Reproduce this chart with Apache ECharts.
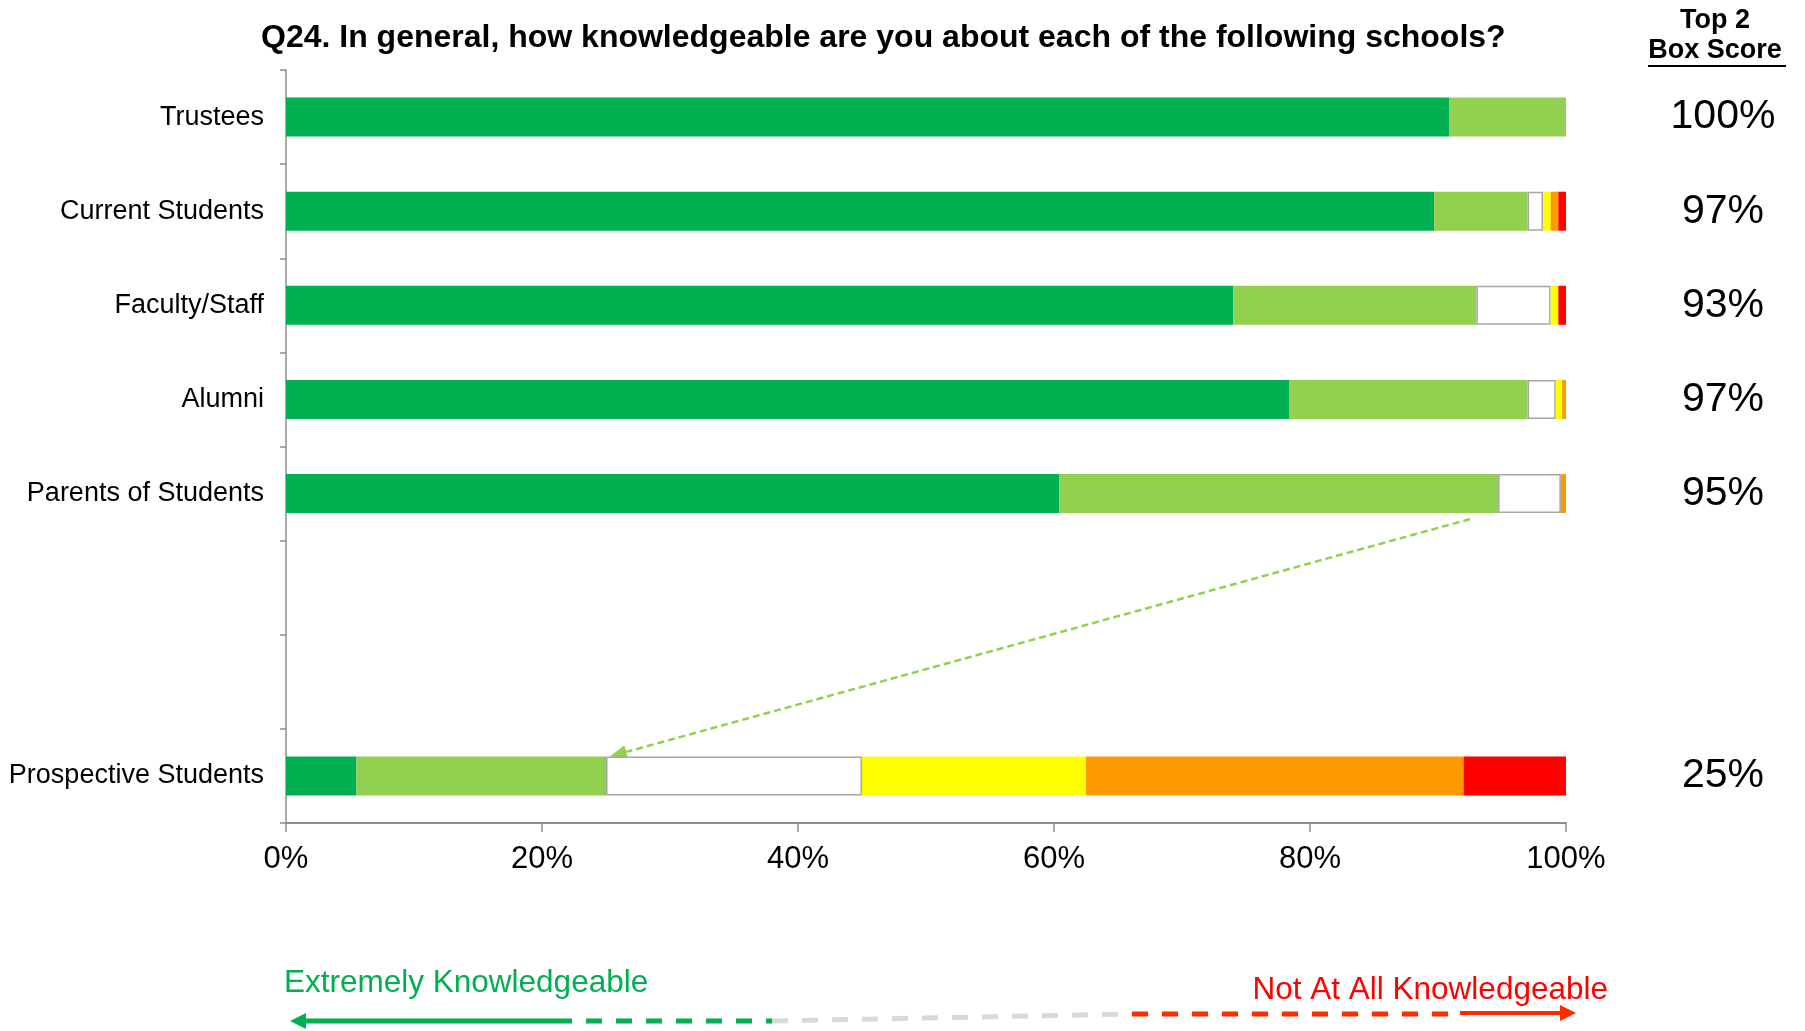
<!DOCTYPE html>
<html>
<head>
<meta charset="utf-8">
<title>Q24 knowledge of schools</title>
<script src="https://cdn.jsdelivr.net/npm/echarts@6/dist/echarts.min.js"></script>
<style>
  html, body { margin: 0; padding: 0; background: #fff; }
  #chart { width: 1805px; height: 1031px; }
</style>
</head>
<body>
<div id="chart"></div>
<script>
// categories, top to bottom (two empty slots before Prospective Students)
var categories = ['Trustees', 'Current Students', 'Faculty/Staff', 'Alumni', 'Parents of Students', '', '', 'Prospective Students'];

// percentages per answer, same order as categories
var extremely = [90.9, 89.7, 74.0, 78.4, 60.4, null, null, 5.5];
var very      = [9.1, 7.3, 19.0, 18.6, 34.3, null, null, 19.5];
var somewhat  = [0, 1.2, 5.8, 2.2, 4.9, null, null, 20.0];
var aLittle   = [0, 0.6, 0.6, 0.5, 0, null, null, 17.5];
var notVery   = [0, 0.6, 0, 0.3, 0.4, null, null, 29.5];
var notAtAll  = [0, 0.6, 0.6, 0, 0, null, null, 8.0];

var top2 = ['100%', '97%', '93%', '97%', '95%', '', '', '25%'];
var xTicks = [0, 20, 40, 60, 80, 100];

// dashed call-out arrow: from under Parents bar to the top of Prospective bar
var arrowFrom = [92.5, 4];
var arrowTo = [25.3, 7];

var FONT = '"Liberation Sans", Arial, sans-serif';
var BAR_W = 39;

function clean(arr) {
    return arr.map(function (v) { return (v === 0 || v === null) ? '-' : v; });
}

function bar(name, data, color, border) {
    return {
        name: name,
        type: 'bar',
        stack: 'total',
        barWidth: BAR_W,
        data: clean(data),
        itemStyle: {
            color: color,
            borderColor: border || color,
            borderWidth: border ? 1.5 : 0
        },
        emphasis: { disabled: true },
        silent: true
    };
}

var chart = echarts.init(document.getElementById('chart'));

chart.setOption({
    backgroundColor: '#ffffff',
    animation: false,
    textStyle: { fontFamily: FONT },
    title: {
        text: 'Q24. In general, how knowledgeable are you about each of the following schools?',
        left: 256,
        top: 17,
        textStyle: { fontFamily: FONT, fontSize: 32, fontWeight: 'bold', color: '#000' }
    },
    grid: { left: 286, right: 239, top: 70, bottom: 208 },
    xAxis: {
        type: 'value',
        min: xTicks[0],
        max: xTicks[xTicks.length - 1],
        interval: xTicks[1] - xTicks[0],
        axisLine: { show: true, lineStyle: { color: '#8c8c8c', width: 2 } },
        axisTick: { show: true, length: 9, lineStyle: { color: '#8c8c8c', width: 1.5 } },
        splitLine: { show: false },
        axisLabel: {
            formatter: '{value}%',
            fontFamily: FONT, fontSize: 31, color: '#000', margin: 21
        }
    },
    yAxis: [{
        type: 'category',
        inverse: true,
        data: categories,
        axisLine: { show: true, lineStyle: { color: '#8c8c8c', width: 1.5 } },
        axisTick: { show: true, length: 6, lineStyle: { color: '#8c8c8c', width: 1.5 } },
        axisLabel: { fontFamily: FONT, fontSize: 27, color: '#000', margin: 22 }
    }, {
        type: 'category',
        inverse: true,
        position: 'right',
        data: categories,
        axisLine: { show: false },
        axisTick: { show: false },
        axisLabel: {
            formatter: function (v, i) { return top2[i]; },
            fontFamily: FONT, fontSize: 41, color: '#000',
            align: 'center', margin: 157
        }
    }],
    series: [
        bar('Extremely Knowledgeable', extremely, '#00B050'),
        bar('Very Knowledgeable', very, '#92D050'),
        bar('Somewhat Knowledgeable', somewhat, '#FFFFFF', '#A6A6A6'),
        bar('A Little Knowledgeable', aLittle, '#FFFF00'),
        bar('Not Very Knowledgeable', notVery, '#FF9900'),
        bar('Not At All Knowledgeable', notAtAll, '#FF0000')
    ]
});

// call-out arrow positions come from the chart's own scales
var p1 = chart.convertToPixel({ seriesIndex: 0 }, arrowFrom);
var p2 = chart.convertToPixel({ seriesIndex: 0 }, arrowTo);
var sx = p1[0], sy = p1[1] + BAR_W / 2 + 6;
var ex = p2[0], ey = p2[1] - BAR_W / 2;
var ang = Math.atan2(ey - sy, ex - sx);
var headL = 17, headW = 7;
var bx = ex - headL * Math.cos(ang), by = ey - headL * Math.sin(ang);
var nx = -Math.sin(ang) * headW, ny = Math.cos(ang) * headW;

var GREEN = '#00B050', GREY = '#D9D9D9', RED = '#FF2A00';

chart.setOption({
    graphic: [
        // call-out arrow
        { type: 'line', shape: { x1: sx, y1: sy, x2: bx, y2: by },
          style: { stroke: '#92D050', lineWidth: 2.5, lineDash: [7, 4] }, silent: true },
        { type: 'polygon', shape: { points: [[ex, ey], [bx + nx, by + ny], [bx - nx, by - ny]] },
          style: { fill: '#92D050' }, silent: true },

        // box score header
        { type: 'text', x: 1715, y: 21,
          style: { text: 'Top 2', font: 'bold 27px ' + FONT, fill: '#000', align: 'center', verticalAlign: 'middle' } },
        { type: 'text', x: 1715, y: 51,
          style: { text: 'Box Score', font: 'bold 27px ' + FONT, fill: '#000', align: 'center', verticalAlign: 'middle' } },
        { type: 'line', shape: { x1: 1648, y1: 66, x2: 1786, y2: 66 },
          style: { stroke: '#000', lineWidth: 2 } },

        // bottom scale arrow
        { type: 'text', x: 284, y: 983,
          style: { text: 'Extremely Knowledgeable', font: '31.5px ' + FONT, fill: GREEN, align: 'left', verticalAlign: 'middle' } },
        { type: 'text', x: 1608, y: 990,
          style: { text: 'Not At All Knowledgeable', font: '31.5px ' + FONT, fill: '#FF0000', align: 'right', verticalAlign: 'middle' } },
        { type: 'polygon', shape: { points: [[290, 1021], [306, 1013], [306, 1029]] }, style: { fill: GREEN } },
        { type: 'line', shape: { x1: 304, y1: 1021, x2: 556, y2: 1021 }, style: { stroke: GREEN, lineWidth: 5 } },
        { type: 'line', shape: { x1: 556, y1: 1021, x2: 772, y2: 1021 }, style: { stroke: GREEN, lineWidth: 5, lineDash: [16, 14] } },
        { type: 'line', shape: { x1: 772, y1: 1021, x2: 1132, y2: 1014 }, style: { stroke: GREY, lineWidth: 5, lineDash: [16, 14] } },
        { type: 'line', shape: { x1: 1132, y1: 1014, x2: 1460, y2: 1014 }, style: { stroke: RED, lineWidth: 5, lineDash: [16, 14] } },
        { type: 'line', shape: { x1: 1460, y1: 1013, x2: 1562, y2: 1013 }, style: { stroke: RED, lineWidth: 4 } },
        { type: 'polygon', shape: { points: [[1576, 1013], [1560, 1005], [1560, 1021]] }, style: { fill: RED } }
    ]
});
</script>
</body>
</html>
